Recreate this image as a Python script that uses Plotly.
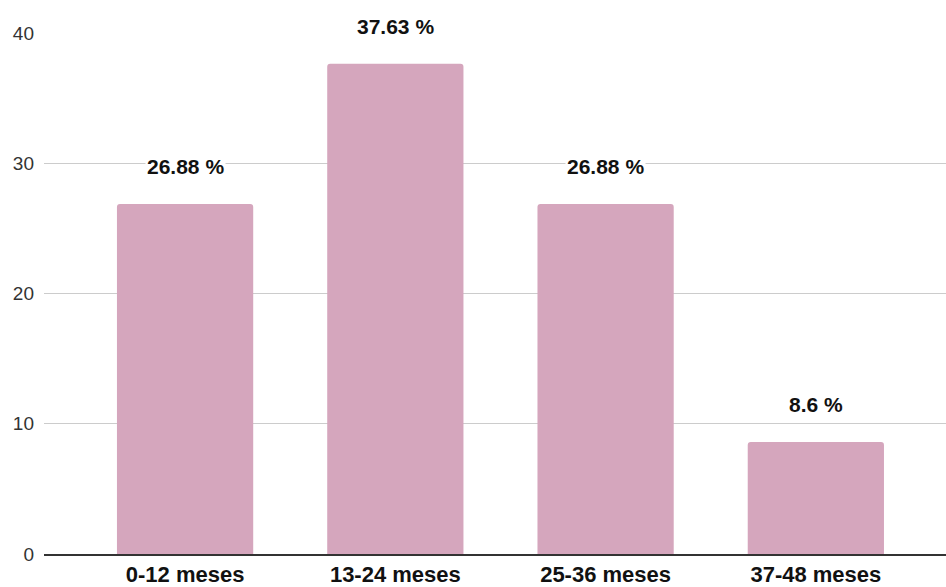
import plotly.graph_objects as go

categories = ["0-12 meses", "13-24 meses", "25-36 meses", "37-48 meses"]
values = [26.88, 37.63, 26.88, 8.6]
labels = ["26.88 %", "37.63 %", "26.88 %", "8.6 %"]
y_ticks = [0, 10, 20, 30, 40]

fig = go.Figure()
fig.add_trace(go.Bar(
    x=categories, y=values,
    marker=dict(color="#d5a6bd", cornerradius=3, line=dict(width=0)),
    hoverinfo="skip",
))

for c, v, t in zip(categories, values, labels):
    fig.add_annotation(
        x=c, y=v, text="<b>" + t + "</b>", showarrow=False,
        yanchor="bottom", yshift=24, bgcolor="white", borderpad=1,
        font=dict(family="Liberation Sans, Arial, sans-serif", size=21, color="#111"),
    )

fig.update_layout(
    width=946, height=587,
    margin=dict(l=44, r=0, t=33, b=33),
    paper_bgcolor="white", plot_bgcolor="white",
    bargap=0.352, showlegend=False,
    font=dict(family="Liberation Sans, Arial, sans-serif"),
    xaxis=dict(
        range=[-0.671, 3.619], showgrid=False, showline=True, automargin=False,
        linecolor="#333", linewidth=1.5, ticks="",
        tickfont=dict(size=22, color="#111", family="Liberation Sans, Arial, sans-serif"),
        tickprefix="<b>", ticksuffix="</b>", ticklabelstandoff=0,
    ),
    yaxis=dict(
        range=[0, 40], tickvals=y_ticks, showgrid=True, gridcolor="#cccccc",
        gridwidth=1, zeroline=False, showline=False, ticks="", automargin=False,
        tickfont=dict(size=19, color="#333"), ticklabelstandoff=9,
    ),
)

fig.write_html("out.html")
